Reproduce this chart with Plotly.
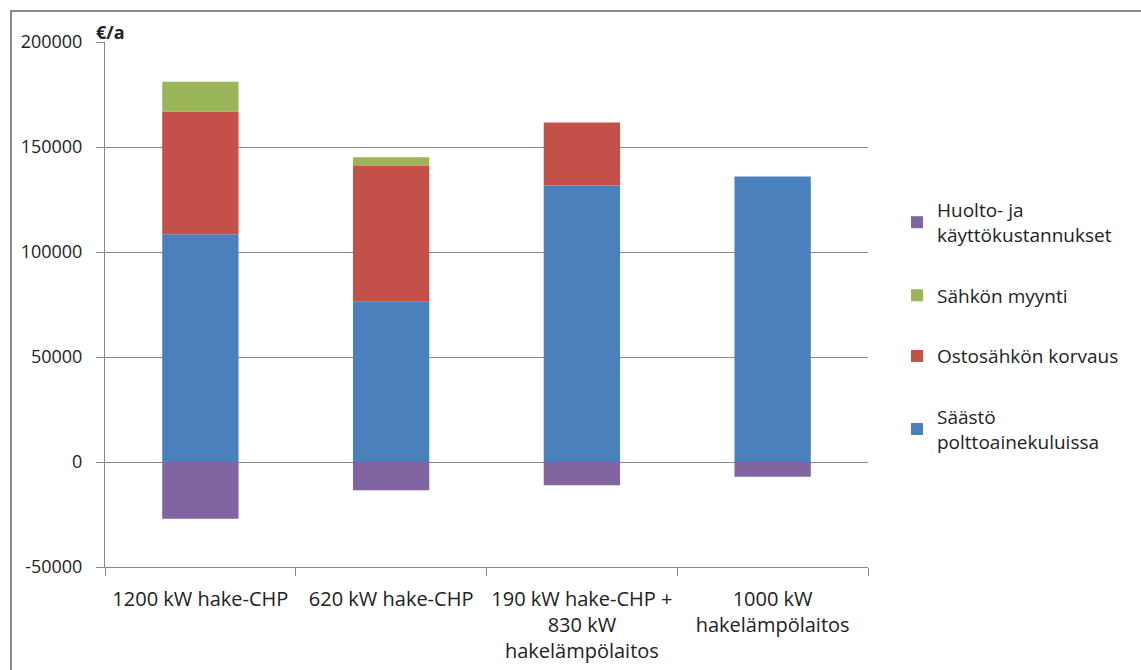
import plotly.graph_objects as go

categories = ["1200 kW hake-CHP", "620 kW hake-CHP",
              "190 kW hake-CHP +<br>830 kW<br>hakelämpölaitos",
              "1000 kW<br>hakelämpölaitos"]
saasto = [108500, 76300, 131700, 136000]
ostosahko = [58400, 64700, 30000, 0]
sahkon_myynti = [14200, 4100, 0, 0]
huolto = [-27000, -13500, -11100, -7000]
y_ticks = [-50000, 0, 50000, 100000, 150000, 200000]
y_tick_labels = ["-50000", "0", "50000", "100000", "150000", "200000"]

names = ["Säästö<br>polttoainekuluissa", "Ostosähkön korvaus",
         "Sähkön myynti", "Huolto- ja<br>käyttökustannukset"]
colors = ["#4A81BC", "#C4504A", "#9BB659", "#8065A1"]
ranks = [4, 3, 2, 1]
series = [saasto, ostosahko, sahkon_myynti, huolto]

FONT = "Open Sans"
fig = go.Figure()
for n, c, s, r in zip(names, colors, series, ranks):
    fig.add_trace(go.Bar(x=categories, y=s, name=n, marker_color=c,
                         marker_line_width=0, legendgroup=n, legendrank=r))

L, R, T, B = 105, 273, 42, 103
W, H = 1141, 670
pw = W - L - R
ph = H - T - B

fig.update_layout(
    width=W, height=H, barmode="relative", bargap=0.6,
    margin=dict(l=L, r=R, t=T, b=B, autoexpand=False),
    paper_bgcolor="white", plot_bgcolor="white",
    font=dict(family=FONT, size=19, color="#222"),
    legend=dict(traceorder="grouped", x=(897 - L) / pw, xanchor="left",
                y=(H - B - 326) / ph, yanchor="middle",
                font=dict(size=19), tracegroupgap=33,
                itemwidth=30),
    showlegend=True,
)
fig.update_yaxes(range=[-50000, 200000], tickvals=y_ticks, ticktext=y_tick_labels,
                 showgrid=True, gridcolor="#888", gridwidth=1,
                 zeroline=True, zerolinecolor="#888", zerolinewidth=1,
                 showline=True, linecolor="#888", linewidth=1,
                 ticks="outside", ticklen=8, tickcolor="#888",
                 ticklabelstandoff=10, tickfont=dict(size=18))
fig.update_xaxes(showline=True, linecolor="#888", linewidth=1,
                 ticks="outside", tickson="boundaries", ticklen=8,
                 tickcolor="#888", tickfont=dict(size=20),
                 ticklabelstandoff=14)

fig.add_annotation(text="<b>€/a</b>", xref="paper", yref="paper",
                   x=(94 - L) / pw, y=(H - B - 32) / ph,
                   xanchor="left", yanchor="middle", showarrow=False,
                   font=dict(size=18, family=FONT))
fig.add_shape(type="rect", xref="paper", yref="paper",
              x0=(11 - L) / pw, x1=(W + 20 - L) / pw,
              y0=(H - B - (H + 20)) / ph, y1=(H - B - 11) / ph,
              line=dict(color="#8a8a8a", width=2))

fig.write_html("out.html", config={"displayModeBar": False},
               post_script="document.body.style.margin='0';document.body.style.overflow='hidden';")
